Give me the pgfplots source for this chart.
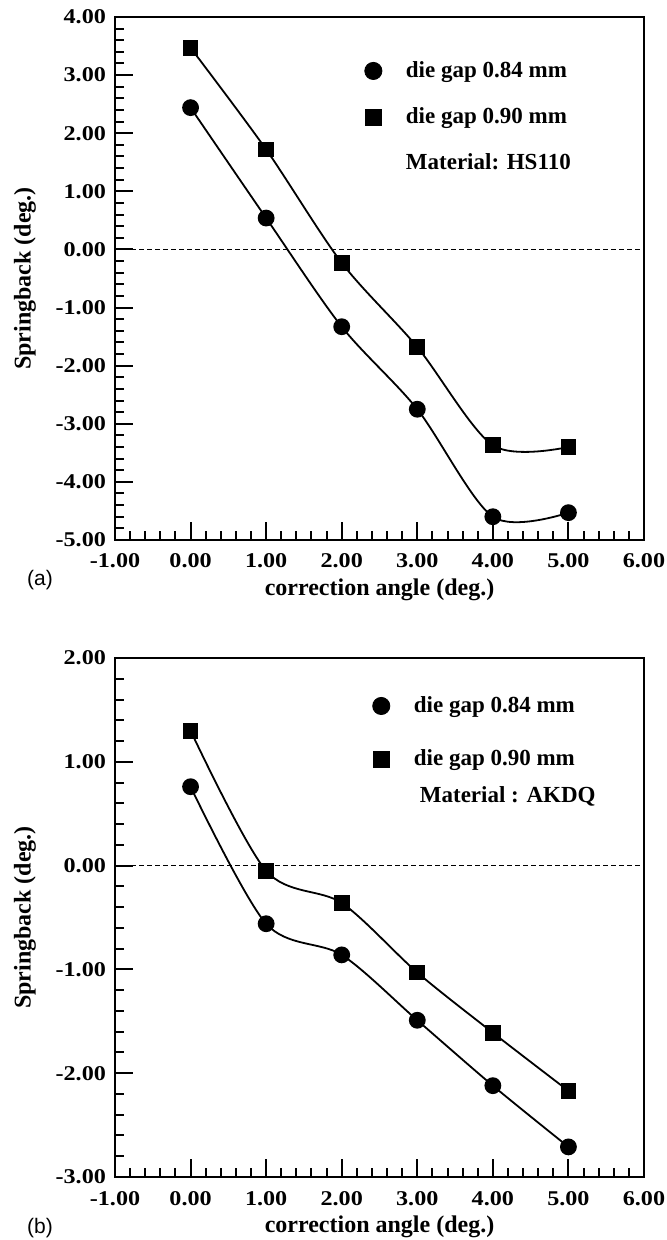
\documentclass[border=0pt]{standalone}
\usepackage{pgfplots}
\pgfplotsset{compat=1.18}
\usepackage{fontspec}
\setmainfont{Liberation Serif}
\newfontfamily\tickfont[FakeStretch=1.15]{Liberation Serif}
\newfontfamily\panelfont{Liberation Sans}

\pgfplotsset{
  springaxis/.style={
    scale only axis,
    width=264.5pt,
    xmin=-1, xmax=6,
    xtick={-1,0,...,6},
    minor x tick num=4,
    minor y tick num=4,
    tick align=inside,
    xtick pos=left, ytick pos=left,
    major tick length=9pt,
    minor tick length=4.5pt,
    every tick/.append style={line width=1pt, black},
    axis line style={line width=1pt},
    tick label style={font=\tickfont\bfseries\fontsize{10.5}{12}\selectfont,
      /pgf/number format/fixed,
      /pgf/number format/fixed zerofill,
      /pgf/number format/precision=2,
      /pgf/number format/assume math mode=true},
    xticklabel style={anchor=base, yshift=-14pt},
    yticklabel style={anchor=east, xshift=-1pt},
    xlabel={correction angle (deg.)},
    ylabel={Springback (deg.)},
    label style={font=\bfseries\fontsize{12}{14}\selectfont},
    xlabel style={at={([yshift=-25pt]rel axis cs:0.5,0)}, anchor=center},
    ylabel style={at={([xshift=-45pt]rel axis cs:0,0.5)}, anchor=center},
    legend style={draw=none, fill=none, font=\bfseries\fontsize{11.5}{14}\selectfont,
      legend cell align=left, anchor=north west, column sep=10pt},
  },
  curve/.style={black, line width=0.9pt, smooth, mark options={solid, fill=black}},
  circ/.style={curve, mark=*, mark size=3.75pt},
  sqr/.style={curve, mark=square*, mark size=3.5pt},
  zeroline/.style={black, line width=0.6pt, dash pattern=on 2.5pt off 1.5pt},
}

\begin{document}
\begin{tikzpicture}
\path[use as bounding box] (0pt,0pt) rectangle (333pt,-620pt);

% (a) HS110
\begin{axis}[springaxis, name=top, at={(57.5pt,-8.5pt)}, anchor=north west,
  height=261.5pt, ymin=-5, ymax=4, ytick={-5,-4,...,4},
  legend style={at={(rel axis cs:0.444,0.931)}, row sep=9.5pt}]
  \addlegendimage{only marks, mark=*, mark size=4.3pt, fill=black}
  \addlegendentry{die gap 0.84 mm}
  \addlegendimage{only marks, mark=square*, mark size=4pt, fill=black}
  \addlegendentry{die gap 0.90 mm}
  \addlegendimage{empty legend}
  \addlegendentry{Material: HS110}
  \addplot[zeroline, forget plot] coordinates {(-1,0) (6,0)};
  \addplot[circ, forget plot] coordinates {
    (0,2.44) (1,0.54) (2,-1.33) (3,-2.75) (4,-4.60) (5,-4.53)};
  \addplot[sqr, forget plot] coordinates {
    (0,3.47) (1,1.72) (2,-0.23) (3,-1.68) (4,-3.37) (5,-3.40)};
\end{axis}
\node[font=\panelfont\fontsize{10.5}{12}\selectfont] at (20pt,-290pt) {(a)};

% (b) AKDQ
\begin{axis}[springaxis, name=bottom, at={(57.5pt,-329pt)}, anchor=north west,
  height=259.5pt, ymin=-3, ymax=2, ytick={-3,-2,...,2},
  legend style={at={(rel axis cs:0.475,0.942)}, row sep=13pt}]
  \addlegendimage{only marks, mark=*, mark size=4.3pt, fill=black}
  \addlegendentry{die gap 0.84 mm}
  \addlegendimage{only marks, mark=square*, mark size=4pt, fill=black}
  \addlegendentry{die gap 0.90 mm}
  \addplot[zeroline, forget plot] coordinates {(-1,0) (6,0)};
  \addplot[circ, forget plot] coordinates {
    (0,0.76) (1,-0.56) (2,-0.86) (3,-1.49) (4,-2.12) (5,-2.71)};
  \addplot[sqr, forget plot] coordinates {
    (0,1.30) (1,-0.05) (2,-0.36) (3,-1.03) (4,-1.61) (5,-2.17)};
  \node[font=\bfseries\fontsize{11.5}{14}\selectfont, anchor=west]
    at (rel axis cs:0.563,0.733) {Material : AKDQ};
\end{axis}
\node[font=\panelfont\fontsize{10.5}{12}\selectfont] at (20pt,-614pt) {(b)};
\end{tikzpicture}
\end{document}
